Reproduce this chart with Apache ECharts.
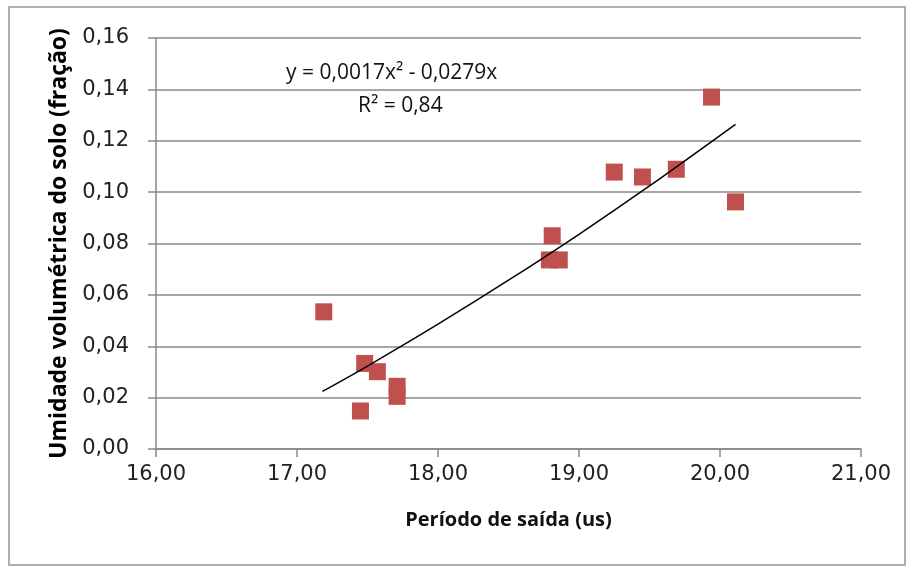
<!DOCTYPE html>
<html>
<head>
<meta charset="utf-8">
<script src="https://cdn.jsdelivr.net/npm/echarts@6/dist/echarts.min.js"></script>
<style>html,body{margin:0;padding:0;background:#fff}#c{width:910px;height:571px}</style>
</head>
<body>
<div id="c"></div>
<script>
// Measured points: período de saída (us) vs umidade volumétrica (fração)
const periodo = [17.19, 17.45, 17.48, 17.57, 17.71, 17.71, 18.81, 18.79, 18.86, 19.25, 19.45, 19.69, 19.94, 20.11];
const umidade = [0.0534, 0.0148, 0.0333, 0.0301, 0.0244, 0.0205, 0.0830, 0.0736, 0.0736, 0.1078, 0.1059, 0.1089, 0.1370, 0.0962];
// Trend line
const trendX = [17.18, 17.5, 18.0, 18.5, 19.0, 19.5, 20.11];
const trendY = [0.0224, 0.0323, 0.0486, 0.0657, 0.0836, 0.1024, 0.1264];
const eqText = 'y = 0,0017x\u00B2 - 0,0279x';
const r2Text = 'R\u00B2 = 0,84';
const xTitle = 'Período de saída (us)';
const yTitle = 'Umidade volumétrica do solo (fração)';

const fmt2 = v => v.toFixed(2).replace('.', ',');
const chart = echarts.init(document.getElementById('c'), null, {renderer: 'canvas'});
chart.setOption({
  backgroundColor: '#ffffff',
  animation: false,
  grid: {left: 156, right: 49, top: 38, bottom: 122},
  graphic: [
    {type: 'rect', shape: {x: 9, y: 7, width: 896, height: 558}, style: {fill: 'none', stroke: '#b0b0b0', lineWidth: 2}, z: -1},
    {type: 'text', left: 286, top: 63, style: {text: eqText, font: '21px "Open Sans"', fill: '#111'}},
    {type: 'text', left: 358, top: 96, style: {text: r2Text, font: '21px "Open Sans"', fill: '#111'}}
  ],
  xAxis: {
    type: 'value', min: 16, max: 21, interval: 1,
    name: xTitle, nameLocation: 'middle', nameGap: 61,
    nameTextStyle: {fontFamily: 'Open Sans', fontWeight: 'bold', fontSize: 20, color: '#111'},
    axisLine: {show: true, onZero: false, lineStyle: {color: '#888', width: 1.5}},
    axisTick: {show: true, length: 8, lineStyle: {color: '#888', width: 1.5}},
    axisLabel: {margin: 15, fontFamily: 'DejaVu Sans', fontSize: 21, color: '#222', formatter: fmt2},
    splitLine: {show: false}
  },
  yAxis: {
    type: 'value', min: 0, max: 0.16, interval: 0.02,
    name: yTitle, nameLocation: 'middle', nameGap: 77,
    nameTextStyle: {fontFamily: 'Open Sans', fontWeight: 'bold', fontSize: 23, color: '#000'},
    axisLine: {show: true, lineStyle: {color: '#888', width: 1.5}},
    axisTick: {show: true, length: 8, lineStyle: {color: '#888', width: 1.5}},
    axisLabel: {margin: 27, fontFamily: 'DejaVu Sans', fontSize: 21, color: '#222', formatter: fmt2},
    splitLine: {show: true, lineStyle: {color: '#888', width: 1.5}}
  },
  series: [
    {
      type: 'scatter', symbol: 'rect', symbolSize: 17,
      itemStyle: {color: '#C0504D', opacity: 1},
      data: periodo.map((x, i) => [x, umidade[i]]), z: 2
    },
    {
      type: 'line', showSymbol: false, smooth: 0.3,
      lineStyle: {color: '#000', width: 1.5},
      data: trendX.map((x, i) => [x, trendY[i]]), z: 3
    }
  ]
});
</script>
</body>
</html>
